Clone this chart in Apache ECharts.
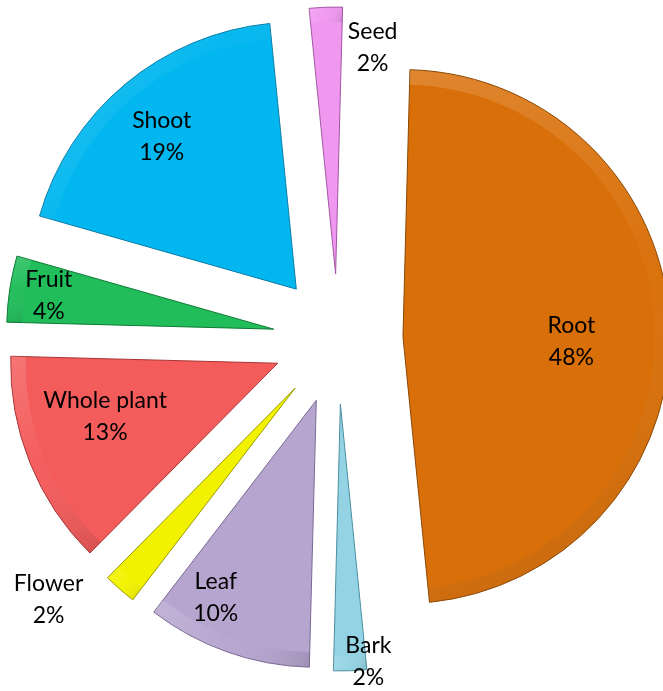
<!DOCTYPE html>
<html>
<head>
<meta charset="utf-8">
<title>Plant parts</title>
<script src="https://cdn.jsdelivr.net/npm/echarts@6/dist/echarts.min.js"></script>
<style>
  html, body { margin: 0; padding: 0; background: #ffffff; }
  #chart { width: 663px; height: 691px; }
</style>
</head>
<body>
<div id="chart"></div>
<script>
// Share of each plant part (percent)
var parts  = ['Root', 'Bark', 'Leaf', 'Flower', 'Whole plant', 'Fruit', 'Shoot', 'Seed'];
var shares = [48, 2, 10, 2, 13, 4, 19, 2];

// Slice fills and their darker rim shades
var fills = ['#d96f08', '#93d3e3', '#b6a5cf', '#f2f200', '#f45b5b', '#20bd5a', '#02b7ef', '#f098f0'];
var rims  = ['#8a4805', '#4c8fa0', '#7a6a94', '#9a9a00', '#a83434', '#0f7a36', '#0f7ea6', '#a355a3'];

// Label nudges (px) from the default inside anchor of each slice
var labelShift = {
  'Root':        [32, 10],
  'Bark':        [23, 121],
  'Leaf':        [-55, 69],
  'Flower':      [-157, 109],
  'Whole plant': [-46, 2],
  'Fruit':       [-90, -13],
  'Shoot':       [-47, -48],
  'Seed':        [42, -90]
};

var CENTER = [338, 339];
var R = 267;
var START = 88.5;
var EXPLODE = 65;

var chart = echarts.init(document.getElementById('chart'), null, { renderer: 'canvas' });

var sliceData = parts.map(function (name, i) {
  return {
    name: name,
    value: shares[i],
    selected: true,
    itemStyle: { color: fills[i], borderColor: rims[i], borderWidth: 1 }
  };
});

// Rim band: light on the upper-left side, shaded on the lower-right side
var rimData = parts.map(function (name, i) {
  return {
    name: name,
    value: shares[i],
    selected: true,
    itemStyle: {
      color: new echarts.graphic.LinearGradient(0, 0, 1, 1, [
        { offset: 0, color: 'rgba(255,255,255,0.16)' },
        { offset: 0.5, color: 'rgba(255,255,255,0.02)' },
        { offset: 1, color: 'rgba(0,0,0,0.12)' }
      ]),
      borderWidth: 0
    }
  };
});

chart.setOption({
  animation: false,
  series: [{
    type: 'pie',
    center: CENTER,
    radius: [0, R],
    startAngle: START,
    clockwise: true,
    selectedMode: 'multiple',
    selectedOffset: EXPLODE,
    avoidLabelOverlap: false,
    emphasis: { disabled: true },
    label: {
      show: true,
      position: 'inside',
      formatter: function (p) { return p.name + '\n' + p.value + '%'; },
      fontFamily: 'Lato',
      fontSize: 23,
      lineHeight: 32,
      color: '#000000'
    },
    labelLine: { show: false },
    labelLayout: function (p) {
      var s = labelShift[parts[p.dataIndex]];
      return { dx: s[0], dy: s[1] };
    },
    data: sliceData,
    z: 2
  }, {
    type: 'pie',
    center: CENTER,
    radius: [R - 15, R - 0.5],
    startAngle: START,
    clockwise: true,
    selectedMode: 'multiple',
    selectedOffset: EXPLODE,
    silent: true,
    emphasis: { disabled: true },
    label: { show: false },
    labelLine: { show: false },
    data: rimData,
    z: 3
  }]
});
</script>
</body>
</html>
